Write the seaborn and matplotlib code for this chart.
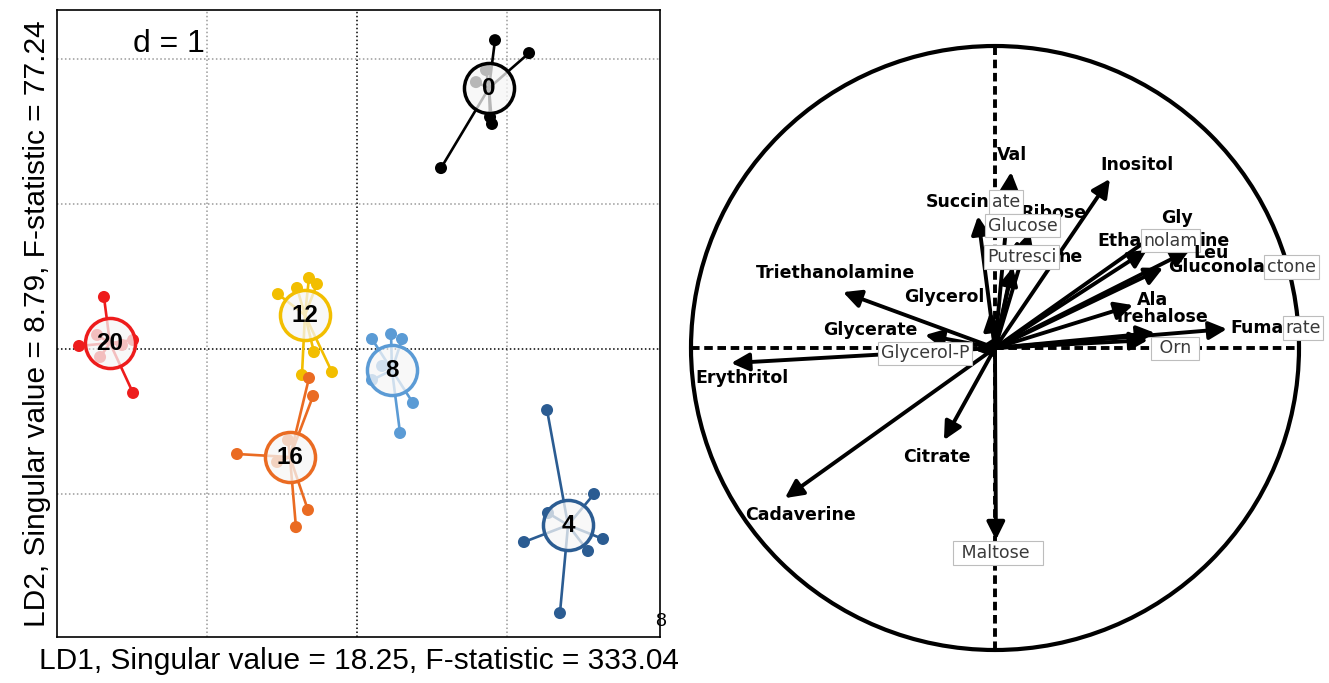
import numpy as np
import pandas as pd
import matplotlib
matplotlib.use('Agg')
import matplotlib.pyplot as plt
import seaborn as sns
from matplotlib.patches import Ellipse

# ---------------- Left panel: LDA scores ----------------
groups = ['0', '4', '8', '12', '16', '20']
group_colors = ['#000000', '#2B5C92', '#5B9BD5', '#F2BE00', '#EA6B22', '#EE1C1C']
center_x = [0.88, 1.407, 0.233, -0.347, -0.447, -1.647]
center_y = [1.80, -1.214, -0.145, 0.234, -0.745, 0.041]

pts_x_0 = [0.92, 1.147, 0.56, 0.887, 0.90, 0.86, 0.793]
pts_y_0 = [2.13, 2.041, 1.248, 1.60, 1.552, 1.924, 1.841]
pts_x_4 = [1.267, 1.58, 1.113, 1.64, 1.54, 1.353, 1.273]
pts_y_4 = [-0.421, -1.00, -1.331, -1.31, -1.393, -1.821, -1.131]
pts_x_8 = [0.10, 0.227, 0.30, 0.373, 0.287, 0.167, 0.10]
pts_y_8 = [0.069, 0.103, 0.069, -0.372, -0.579, -0.117, -0.214]
pts_x_12 = [-0.527, -0.40, -0.32, -0.267, -0.167, -0.287, -0.367]
pts_y_12 = [0.379, 0.421, 0.49, 0.448, -0.159, -0.021, -0.179]
pts_x_16 = [-0.80, -0.32, -0.293, -0.327, -0.407, -0.46, -0.533]
pts_y_16 = [-0.724, -0.20, -0.324, -1.11, -1.228, -0.628, -0.779]
pts_x_20 = [-1.687, -1.853, -1.493, -1.493, -1.733, -1.713, -1.567]
pts_y_20 = [0.359, 0.021, -0.303, 0.062, 0.097, -0.055, 0.028]

pts_x = [pts_x_0, pts_x_4, pts_x_8, pts_x_12, pts_x_16, pts_x_20]
pts_y = [pts_y_0, pts_y_4, pts_y_8, pts_y_12, pts_y_16, pts_y_20]

xlabel_text = 'LD1, Singular value = 18.25, F-statistic = 333.04'
ylabel_text = 'LD2, Singular value = 8.79, F-statistic = 77.24'
grid_x = [-1, 0, 1]
grid_y = [-1, 0, 1, 2]

# ---------------- Right panel: correlation circle ----------------
variables = ['Val', 'Inositol', 'Succinate', 'Ribose', 'Glucose', 'Putrescine',
             'Glycerol', 'Triethanolamine', 'Glycerate', 'Glycerol-P', 'Erythritol',
             'Cadaverine', 'Citrate', 'Maltose', 'Gly', 'Ethanolamine', 'Leu',
             'Gluconolactone', 'Ala', 'Trehalose', 'Fumarate', 'Orn']
load_x = [0.053, 0.378, -0.056, 0.115, 0.076, 0.059, -0.016, -0.50, -0.23, -0.066,
          -0.868, -0.691, -0.168, 0.003, 0.553, 0.50, 0.641, 0.553, 0.454, 0.526,
          0.763, 0.503]
load_y = [0.583, 0.560, 0.437, 0.384, 0.358, 0.268, 0.119, 0.185, 0.043, -0.007,
          -0.05, -0.497, -0.305, -0.636, 0.394, 0.325, 0.325, 0.265, 0.142, 0.050,
          0.063, 0.026]

# label rendering: segments ('b' = black bold, 'g' = grey boxed), offset (px), ha
label_layout = {
    'Val': ([('Val', 'b')], (1, 17), 'center'),
    'Inositol': ([('Inositol', 'b')], (27, 14), 'center'),
    'Succinate': ([('Succin', 'b'), ('ate', 'g')], (-52, 14), 'left'),
    'Ribose': ([('Ribose', 'b')], (-10, 19), 'left'),
    'Glucose': ([('Glucose', 'g')], (-30, 14), 'left'),
    'Putrescine': ([('Putresci', 'g'), ('ne', 'b')], (-26, 10), 'left'),
    'Glycerol': ([('Glycerol', 'b')], (-46, 15), 'center'),
    'Triethanolamine': ([('Triethanolamine', 'b')], (-8, 19), 'center'),
    'Glycerate': ([('Glycerate', 'b')], (-55, 5), 'center'),
    'Glycerol-P': ([('Glycerol-P', 'g')], (-94, -3), 'left'),
    'Erythritol': ([('Erythritol', 'b')], (11, -15), 'center'),
    'Cadaverine': ([('Cadaverine', 'b')], (16, -17), 'center'),
    'Citrate': ([('Citrate', 'b')], (-7, -17), 'center'),
    'Maltose': ([(' Maltose  ', 'g')], (2, -13), 'center'),
    'Gly': ([('Gly', 'b')], (14, 11), 'center'),
    'Ethanolamine': ([('Etha', 'b'), ('nolam', 'g'), ('ine', 'b')], (-50, 9), 'left'),
    'Leu': ([('Leu', 'b')], (21, -3), 'center'),
    'Gluconolactone': ([('Gluconola', 'b'), ('ctone', 'g')], (5, 1), 'left'),
    'Ala': ([('Ala', 'b')], (20, 5), 'center'),
    'Trehalose': ([('Trehalose', 'b')], (6, 16), 'center'),
    'Fumarate': ([('Fuma', 'b'), ('rate', 'g')], (3, 1), 'left'),
    'Orn': ([(' Orn ', 'g')], (27, -8), 'center'),
}

# ---------------- Figure ----------------
sns.set_theme(style='white')
plt.rcParams['font.family'] = ['Liberation Sans', 'DejaVu Sans']

W, H = 1329, 683
fig = plt.figure(figsize=(W / 100, H / 100), dpi=100)
fig.patch.set_facecolor('white')

axL = fig.add_axes([57 / W, (H - 637) / H, (660 - 57) / W, (637 - 10) / H])
axL.set_xlim(-2.0, 2.02)
axL.set_ylim(-1.986, 2.338)

for gx in grid_x:
    axL.axvline(gx, color='black' if gx == 0 else '#9a9a9a', lw=1.1,
                ls=(0, (1, 1.6)), zorder=1)
for gy in grid_y:
    axL.axhline(gy, color='black' if gy == 0 else '#9a9a9a', lw=1.1,
                ls=(0, (1, 1.6)), zorder=1)

rows = []
for g, xs, ys in zip(groups, pts_x, pts_y):
    for x, y in zip(xs, ys):
        rows.append({'group': g, 'LD1': x, 'LD2': y})
df = pd.DataFrame(rows)
pal = dict(zip(groups, group_colors))

for g, cx, cy, xs, ys in zip(groups, center_x, center_y, pts_x, pts_y):
    for x, y in zip(xs, ys):
        axL.plot([cx, x], [cy, y], color=pal[g], lw=1.9, zorder=2,
                 solid_capstyle='round')

sns.scatterplot(data=df, x='LD1', y='LD2', hue='group', palette=pal, s=75,
                edgecolor='none', legend=False, ax=axL, zorder=3)

for g, cx, cy in zip(groups, center_x, center_y):
    axL.scatter([cx], [cy], s=1300, facecolor=(0.965, 0.965, 0.965, 0.75),
                edgecolor=pal[g], linewidth=2.5, zorder=4)
    axL.text(cx, cy, g, ha='center', va='center', fontsize=17.5,
             fontweight='bold', color='black', zorder=5)

axL.set_xticks([])
axL.set_yticks([])
for s in ['left', 'bottom', 'top']:
    axL.spines[s].set_color('black')
    axL.spines[s].set_linewidth(1.2)
axL.spines['right'].set_color('black')
axL.spines['right'].set_linewidth(1.2)
axL.spines['right'].set_linestyle((0, (2, 1)))

axL.set_xlabel(xlabel_text, fontsize=21.5, labelpad=7, color='black')
axL.set_ylabel(ylabel_text, fontsize=21.5, labelpad=4, color='black')
axL.text(0.185, 0.945, 'd = 1', transform=axL.transAxes, fontsize=23,
         ha='center', va='center', color='black')
fig.text(661 / W, 1 - 621 / H, '8', fontsize=14, ha='center', va='center',
         color='black', family=['Liberation Sans'])

# ---------------- Right panel ----------------
axR = fig.add_axes([680 / W, 0, (W - 680) / W, 1])
axR.set_xlim((680 - 995) / 304, (W - 995) / 304)
axR.set_ylim((348 - H) / 302, 348 / 302)
axR.axis('off')

axR.add_patch(Ellipse((0, 0), 2, 2, fill=False, edgecolor='black', lw=3,
                      zorder=1))
axR.plot([-1, 1], [0, 0], color='black', lw=2.8, ls=(0, (2.2, 1.2)), zorder=1)
axR.plot([0, 0], [-1, 1], color='black', lw=2.8, ls=(0, (2.2, 1.2)), zorder=1)

for v, lx, ly in zip(variables, load_x, load_y):
    axR.annotate('', xy=(lx, ly), xytext=(0, 0),
                 arrowprops=dict(arrowstyle='-|>,head_length=0.9,head_width=0.45',
                                 lw=2.8, color='black', mutation_scale=12,
                                 shrinkA=0, shrinkB=0),
                 zorder=2)

bold_kw = dict(fontsize=12.5, fontweight='bold', color='black',
               family=['DejaVu Sans'])
grey_kw = dict(fontsize=12.5, color='#3a3a3a', family=['DejaVu Sans'],
               bbox=dict(boxstyle='square,pad=0.15', facecolor='white',
                         edgecolor='#bdbdbd', lw=0.8))

order = ['Ribose'] + [v for v in variables if v != 'Ribose']
for v in order:
    i = variables.index(v)
    segs, off, ha = label_layout[v]
    prev = None
    for j, (txt, style) in enumerate(segs):
        kw = bold_kw if style == 'b' else grey_kw
        if prev is None:
            prev = axR.annotate(txt, xy=(load_x[i], load_y[i]), xytext=off,
                                textcoords='offset pixels', ha=ha, va='center',
                                zorder=3, annotation_clip=False, **kw)
        else:
            prev = axR.annotate(txt, xy=(1, 0.5), xycoords=prev,
                                xytext=(2, 0), textcoords='offset pixels',
                                ha='left', va='center', zorder=3, **kw)

fig.savefig('out.png', dpi=100, facecolor='white')
